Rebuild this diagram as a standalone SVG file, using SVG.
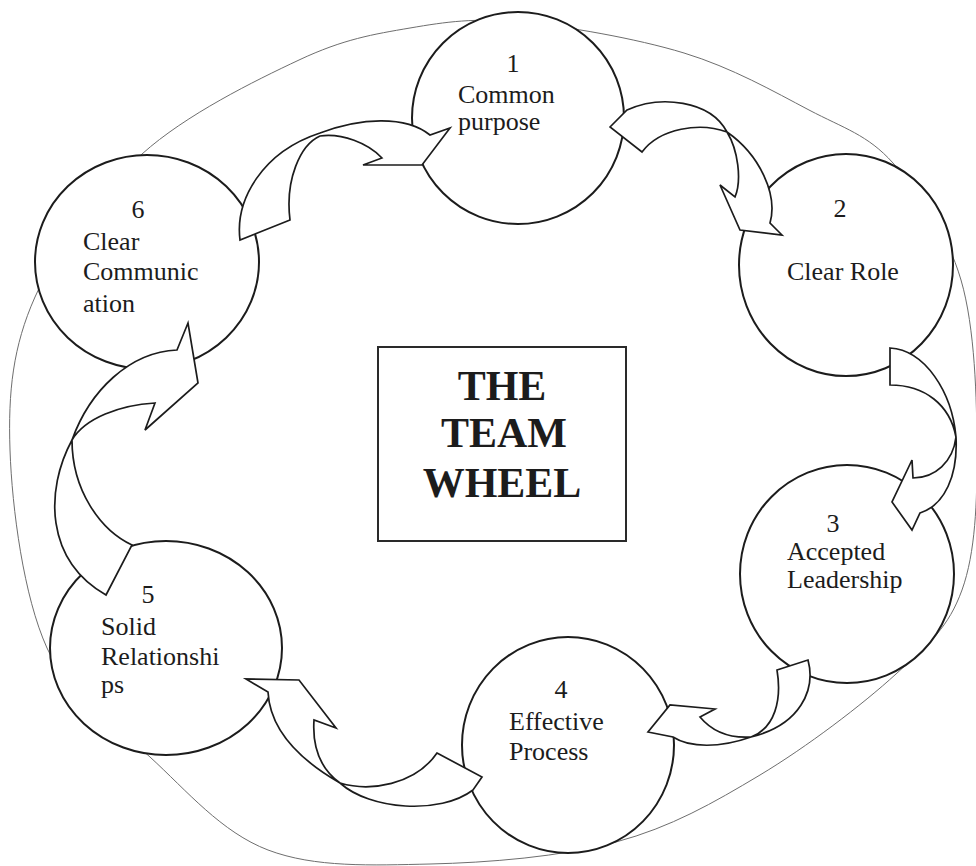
<svg xmlns="http://www.w3.org/2000/svg" width="976" height="866" viewBox="0 0 976 866">
<style>
.bg{fill:#ffffff}
.outer{fill:none;stroke:#6e6e6e;stroke-width:1}
.node{fill:#ffffff;stroke:#1c1c1c;stroke-width:2}
.arrow{fill:#ffffff;stroke:#1c1c1c;stroke-width:1.7;stroke-linejoin:miter}
.lbl{font-family:"Liberation Serif","Times New Roman",serif;font-size:26px;fill:#1c1c1c}
.mid{text-anchor:middle}
.title{font-family:"Liberation Serif","Times New Roman",serif;font-size:42px;font-weight:bold;fill:#1c1c1c;text-anchor:middle}
.box{fill:#ffffff;stroke:#2a2a2a;stroke-width:2}
</style>
<rect class="bg" x="0" y="0" width="976" height="866"/>
<path id="wheel-rim" class="outer" d="M520,22 C565.7,26.2 635.8,38.3 684,53 C732.2,67.7 774.2,91.7 809,110 C843.8,128.3 867.7,134.7 893,163 C918.3,191.3 947,232.2 961,280 C975,327.8 976.8,398.3 977,450 C977.2,501.7 975.5,552.7 962,590 C948.5,627.3 929.7,643.2 896,674 C862.3,704.8 806.7,747 760,775 C713.3,803 671,827.2 616,842 C561,856.8 488,862.7 430,864 C372,865.3 314.7,867.8 268,850 C221.3,832.2 186.8,790.7 150,757 C113.2,723.3 70.3,699.2 47,648 C23.7,596.8 12,508.5 10,450 C8,391.5 13,346.3 35,297 C57,247.7 98,193.5 142,154 C186,114.5 254.3,81 299,60 C343.7,39 373.2,34.3 410,28 C446.8,21.7 474.3,17.8 520,22 Z"/>
<g id="node1">
<ellipse class="node" cx="518" cy="118" rx="106" ry="106"/>
<text class="lbl mid" x="513" y="72">1</text>
<text class="lbl" x="458" y="103">Common</text>
<text class="lbl" x="458" y="130">purpose</text>
</g>
<g id="node2">
<ellipse class="node" cx="846" cy="265" rx="107" ry="111"/>
<text class="lbl mid" x="840" y="217">2</text>
<text class="lbl" x="787" y="280">Clear Role</text>
</g>
<g id="node3">
<ellipse class="node" cx="847" cy="574" rx="107" ry="109"/>
<text class="lbl mid" x="833" y="532">3</text>
<text class="lbl" x="787" y="560">Accepted</text>
<text class="lbl" x="787" y="588">Leadership</text>
</g>
<g id="node4">
<ellipse class="node" cx="568" cy="745" rx="106" ry="108"/>
<text class="lbl mid" x="561" y="698">4</text>
<text class="lbl" x="509" y="730">Effective</text>
<text class="lbl" x="509" y="760">Process</text>
</g>
<g id="node5">
<ellipse class="node" cx="166" cy="648" rx="116" ry="107"/>
<text class="lbl mid" x="148" y="603">5</text>
<text class="lbl" x="101" y="635">Solid</text>
<text class="lbl" x="101" y="665">Relationshi</text>
<text class="lbl" x="101" y="693">ps</text>
</g>
<g id="node6">
<ellipse class="node" cx="147" cy="262" rx="112" ry="107"/>
<text class="lbl mid" x="138" y="218">6</text>
<text class="lbl" x="83" y="250">Clear</text>
<text class="lbl" x="83" y="280">Communic</text>
<text class="lbl" x="83" y="312">ation</text>
</g>
<g id="center-title">
<rect class="box" x="378" y="347" width="248" height="194"/>
<text class="title" x="502" y="400">THE</text>
<text class="title" x="504" y="447">TEAM</text>
<text class="title" x="502" y="497">WHEEL</text>
</g>
<g id="connectors">
<path id="arrow-6-1" class="arrow" d="M240,240 C235,200 262,152 320,133 C360,118 405,115 430,135 L450,128 L422,165 L363,165 L382,158 C368,143 342,133 320,136 C300,145 285,180 290,220 Z"/>
<path id="arrow-1-2" class="arrow" d="M610,127 L627,110 C660,95 710,100 727,132 C738,150 742,180 735,197 L720,185 L740,230 L782,235 L770,223 C778,195 760,155 727,132 C700,122 660,128 642,152 Z"/>
<path id="arrow-2-3" class="arrow" d="M890,348 C925,350 952,392 956,437 C958,475 945,505 920,513 L912,530 L892,502 L912,460 L913,478 C935,478 953,462 956,437 C950,405 925,385 890,385 Z"/>
<path id="arrow-3-4" class="arrow" d="M777,670 L808,660 C816,690 800,725 751,737 C720,748 690,748 673,737 L648,732 L670,705 L715,709 L700,717 C715,735 735,738 751,737 C775,728 782,700 777,670 Z"/>
<path id="arrow-4-5" class="arrow" d="M437,753 L482,777 L473,790 C440,815 370,810 340,783 C300,760 270,730 268,692 L246,679 L299,680 L336,728 L314,720 C312,750 322,770 340,783 C370,792 415,785 437,753 Z"/>
<path id="arrow-5-6" class="arrow" d="M106,595 L132,545 C100,530 72,490 72,440 C85,418 120,405 155,403 L145,430 L198,383 L188,323 L177,350 C130,352 90,390 72,440 C45,490 45,560 106,595 Z"/>
</g>
</svg>
